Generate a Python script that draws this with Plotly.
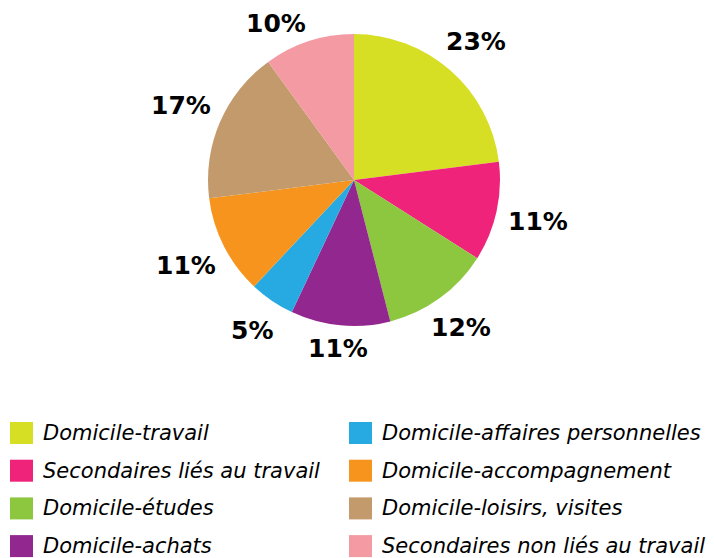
import math
import plotly.graph_objects as go

labels = ["Domicile-travail", "Secondaires liés au travail", "Domicile-études", "Domicile-achats",
          "Domicile-affaires personnelles", "Domicile-accompagnement", "Domicile-loisirs, visites",
          "Secondaires non liés au travail"]
values = [23, 11, 12, 11, 5, 11, 17, 10]
colors = ["#D6DF23", "#EE2379", "#8DC63F", "#92278F", "#27AAE1", "#F7941D", "#C39A6B", "#F49AA3"]

W, H = 714, 558
cx, cy, R = 354, 180, 146
label_ymin = 23  # keep label centres inside the chart area (px from top)

fig = go.Figure(go.Pie(
    labels=labels, values=values, sort=False, direction="clockwise", rotation=0,
    marker=dict(colors=colors, line=dict(width=0)),
    textinfo="none", hoverinfo="label+percent", showlegend=False,
    domain=dict(x=[(cx - R) / W, (cx + R) / W], y=[1 - (cy + R) / H, 1 - (cy - R) / H]),
))

annotations = []
total = sum(values)
cum = 0
for v in values:
    mid = (cum + v / 2) / total * 2 * math.pi
    cum += v
    s, c = math.sin(mid), math.cos(mid)
    r = R + 9 + 32 * abs(s) + 11 * abs(c)
    px, py = cx + r * s, cy - r * c
    if py < label_ymin:
        dy = cy - label_ymin
        px = cx + math.copysign(math.sqrt(max(r * r - dy * dy, 0)), s)
        py = label_ymin
    annotations.append(dict(x=px / W, y=1 - py / H, xref="paper", yref="paper",
                            text=f"<b>{round(v / total * 100)}%</b>", showarrow=False,
                            xanchor="center", yanchor="middle",
                            font=dict(family="DejaVu Sans", size=25, color="#000000")))

shapes = []
for i, (lab, col) in enumerate(zip(labels, colors)):
    column, row = divmod(i, 4)
    x0 = 10 + column * 339
    yc = 433 + row * 37.7
    shapes.append(dict(type="rect", xref="paper", yref="paper",
                       x0=x0 / W, x1=(x0 + 23) / W,
                       y0=1 - (yc + 11) / H, y1=1 - (yc - 11) / H,
                       fillcolor=col, line=dict(width=0)))
    annotations.append(dict(x=(x0 + 31) / W, y=1 - yc / H, xref="paper", yref="paper",
                            text=f"<i>{lab}</i>", showarrow=False,
                            xanchor="left", yanchor="middle",
                            font=dict(family="DejaVu Sans", size=21, color="#000000")))

fig.update_layout(width=W, height=H, margin=dict(l=0, r=0, t=0, b=0),
                  paper_bgcolor="white", plot_bgcolor="white",
                  annotations=annotations, shapes=shapes)
fig.write_html("out.html", config={"displayModeBar": False},
               post_script="document.body.style.margin='0';document.body.style.overflow='hidden';")
